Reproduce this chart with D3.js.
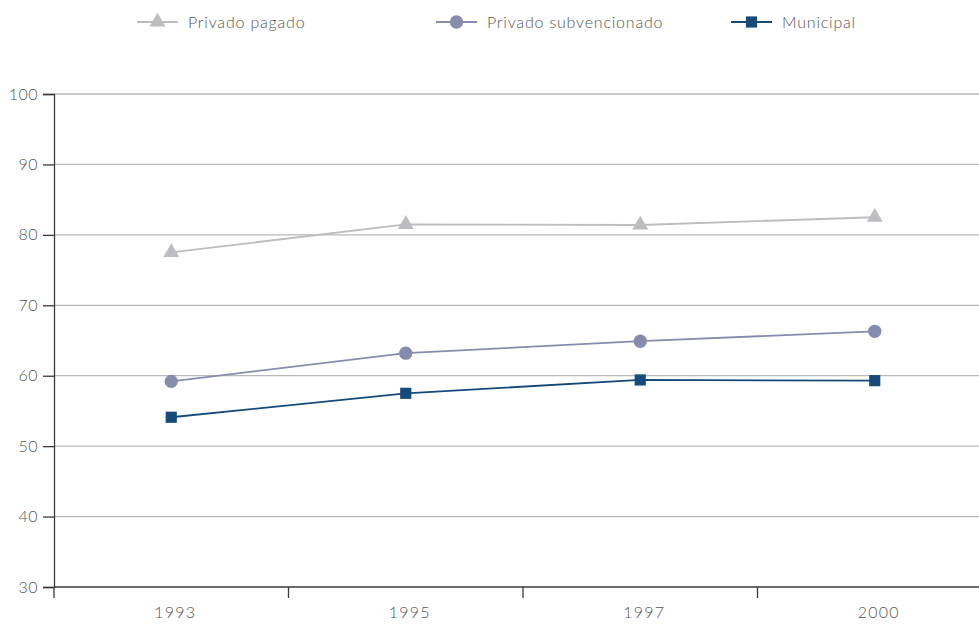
<!DOCTYPE html>
<html><head><meta charset="utf-8">
<script src="https://cdn.jsdelivr.net/npm/d3@7"></script>
<style>
body{margin:0;background:#fff;}
text{font-family:"Lato","Open Sans",sans-serif;font-weight:300;}
</style></head>
<body><svg id="c" width="979" height="624"></svg>
<script>
const years = ["1993","1995","1997","2000"];
const privadoPagado = [77.5, 81.5, 81.4, 82.5];
const privadoSubvencionado = [59.2, 63.2, 64.9, 66.3];
const municipal = [54.1, 57.5, 59.4, 59.3];
const yTicks = [30,40,50,60,70,80,90,100];
const seriesNames = ["Privado pagado","Privado subvencionado","Municipal"];

const series = [
  {name: seriesNames[0], values: privadoPagado, color: "#bdbdc1", shape: d3.symbolTriangle},
  {name: seriesNames[1], values: privadoSubvencionado, color: "#878cae", shape: d3.symbolCircle},
  {name: seriesNames[2], values: municipal, color: "#164a7b", shape: d3.symbolSquare}
];

const svg = d3.select("#c");
const x = d3.scaleBand().domain(years).range([54, 992]);
const y = d3.scaleLinear().domain([30,100]).range([587, 94]);

// grid
svg.append("g").selectAll("line").data(yTicks.filter(d=>d>30)).join("line")
  .attr("x1",54).attr("x2",979).attr("y1",d=>y(d)).attr("y2",d=>y(d))
  .attr("stroke","#b8b8b8").attr("stroke-width",1.3);

// y axis
const ya = svg.append("g").attr("transform","translate(54,0)")
  .call(d3.axisLeft(y).tickValues(yTicks).tickSize(11).tickPadding(5));
ya.select(".domain").attr("stroke","#3a3a3a").attr("stroke-width",1.3);
ya.selectAll(".tick line").attr("stroke","#3a3a3a").attr("stroke-width",1.3);
ya.selectAll("text").attr("font-size",16).attr("fill","#555").attr("font-family","Lato, sans-serif").attr("font-weight",300).attr("letter-spacing",0.5);

// x axis
const xa = svg.append("g").attr("transform","translate(0,587)")
  .call(d3.axisBottom(x).tickSize(0).tickPadding(20));
xa.select(".domain").remove();
svg.append("line").attr("x1",54).attr("x2",979).attr("y1",587).attr("y2",587)
  .attr("stroke","#3a3a3a").attr("stroke-width",1.3);
svg.append("g").selectAll("line").data(years).join("line")
  .attr("x1",d=>x(d)).attr("x2",d=>x(d)).attr("y1",587).attr("y2",598)
  .attr("stroke","#3a3a3a").attr("stroke-width",1.3);
xa.selectAll("text").attr("font-size",16).attr("fill","#555").attr("font-family","Lato, sans-serif").attr("font-weight",300)
  .attr("letter-spacing",1.2).attr("dx",4);

const cx = d => x(d) + x.bandwidth()/2;
const line = d3.line().x((d,i)=>cx(years[i])).y(d=>y(d));

series.forEach(s=>{
  svg.append("path").datum(s.values).attr("d",line)
    .attr("fill","none").attr("stroke",s.color).attr("stroke-width",1.8);
  const sz = s.shape===d3.symbolTriangle?110:(s.shape===d3.symbolCircle?140:125);
  svg.append("g").selectAll("path").data(s.values).join("path")
    .attr("transform",(d,i)=>`translate(${cx(years[i])},${y(d)})`)
    .attr("d",d3.symbol().type(s.shape).size(sz)).attr("fill",s.color);
});

// legend
const legX = [137, 436, 731];
series.forEach((s,i)=>{
  const g = svg.append("g").attr("transform",`translate(${legX[i]},22)`);
  g.append("line").attr("x1",0).attr("x2",41).attr("stroke",s.color).attr("stroke-width",1.8);
  const sz = s.shape===d3.symbolTriangle?110:(s.shape===d3.symbolCircle?140:125);
  g.append("path").attr("transform","translate(20.5,0)").attr("d",d3.symbol().type(s.shape).size(sz)).attr("fill",s.color);
  g.append("text").attr("x",51).attr("dy","0.35em").attr("font-size",16).attr("letter-spacing",0.8).attr("fill","#555").text(s.name);
});
</script></body></html>
